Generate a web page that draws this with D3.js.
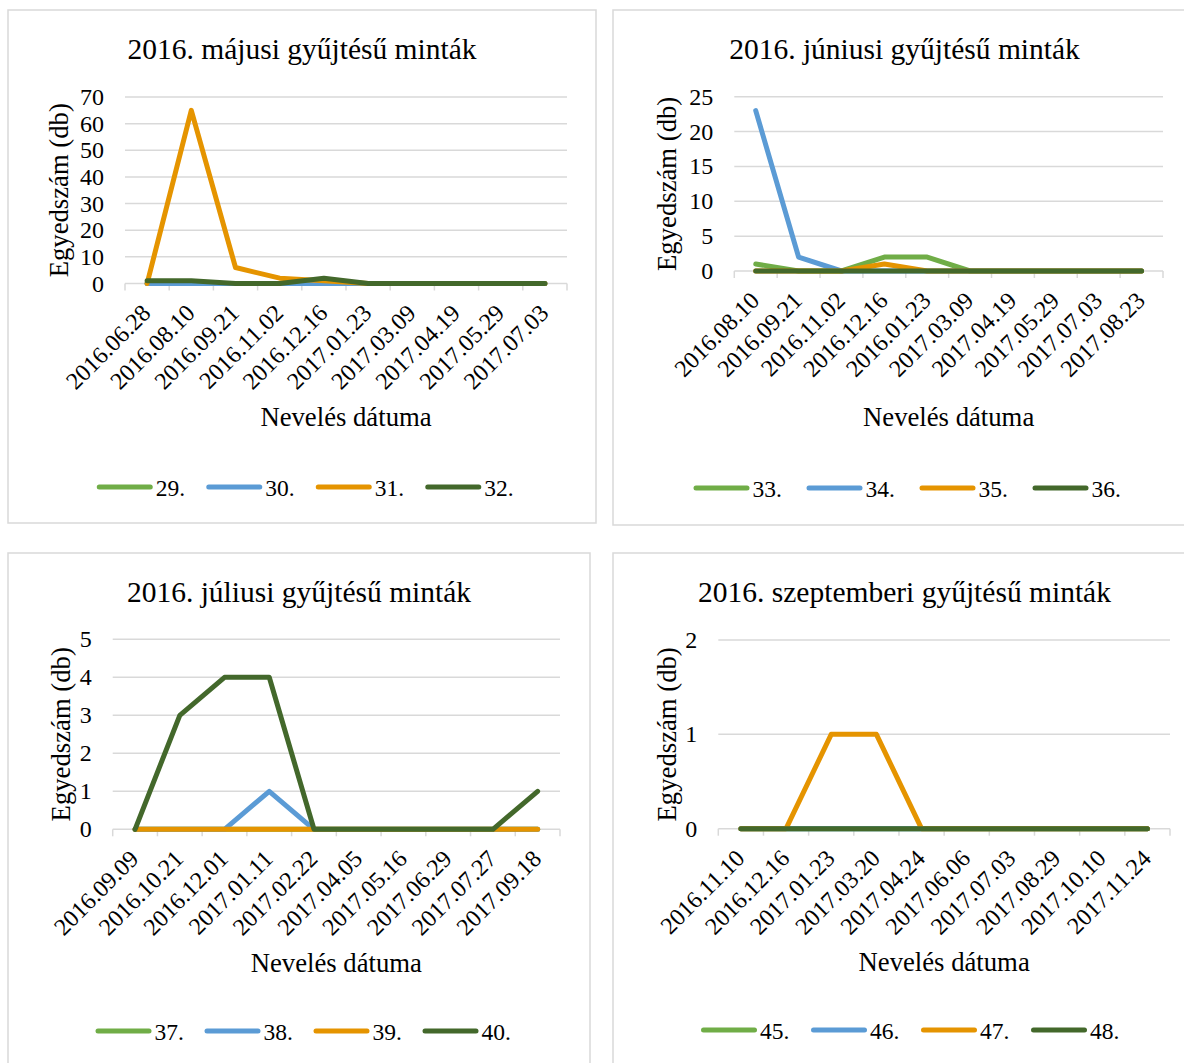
<!DOCTYPE html>
<html>
<head>
<meta charset="utf-8">
<script src="https://cdn.jsdelivr.net/npm/d3@7"></script>
<style>
  html, body { margin: 0; padding: 0; background: #fff; }
  svg { display: block; }
</style>
</head>
<body>
<svg id="chart" width="1184" height="1063"></svg>
<script>
// ---------- DATA ----------
const titles = [
  "2016. májusi gyűjtésű minták",
  "2016. júniusi gyűjtésű minták",
  "2016. júliusi gyűjtésű minták",
  "2016. szeptemberi gyűjtésű minták"
];
const yAxisTitle = "Egyedszám (db)";
const xAxisTitle = "Nevelés dátuma";

const catsMay  = ["2016.06.28","2016.08.10","2016.09.21","2016.11.02","2016.12.16","2017.01.23","2017.03.09","2017.04.19","2017.05.29","2017.07.03"];
const catsJune = ["2016.08.10","2016.09.21","2016.11.02","2016.12.16","2016.01.23","2017.03.09","2017.04.19","2017.05.29","2017.07.03","2017.08.23"];
const catsJuly = ["2016.09.09","2016.10.21","2016.12.01","2017.01.11","2017.02.22","2017.04.05","2017.05.16","2017.06.29","2017.07.27","2017.09.18"];
const catsSept = ["2016.11.10","2016.12.16","2017.01.23","2017.03.20","2017.04.24","2017.06.06","2017.07.03","2017.08.29","2017.10.10","2017.11.24"];

const namesMay  = ["29.","30.","31.","32."];
const namesJune = ["33.","34.","35.","36."];
const namesJuly = ["37.","38.","39.","40."];
const namesSept = ["45.","46.","47.","48."];

const s29 = [0,0,0,0,0,0,0,0,0,0];
const s30 = [0,0,0,0,0,0,0,0,0,0];
const s31 = [0,65,6,2,1,0,0,0,0,0];
const s32 = [1,1,0,0,2,0,0,0,0,0];

const s33 = [1,0,0,2,2,0,0,0,0,0];
const s34 = [23,2,0,0,0,0,0,0,0,0];
const s35 = [0,0,0,1,0,0,0,0,0,0];
const s36 = [0,0,0,0,0,0,0,0,0,0];

const s37 = [0,0,0,0,0,0,0,0,0,0];
const s38 = [0,0,0,1,0,0,0,0,0,0];
const s39 = [0,0,0,0,0,0,0,0,0,0];
const s40 = [0,3,4,4,0,0,0,0,0,1];

const s45 = [0,0,0,0,0,0,0,0,0,0];
const s46 = [0,0,0,0,0,0,0,0,0,0];
const s47 = [0,0,1,1,0,0,0,0,0,0];
const s48 = [0,0,0,0,0,0,0,0,0,0];

const yTicksMay  = [0,10,20,30,40,50,60,70];
const yTicksJune = [0,5,10,15,20,25];
const yTicksJuly = [0,1,2,3,4,5];
const yTicksSept = [0,1,2];

const seriesColors = ["#70ad47","#5b9bd5","#e59400","#43682b"];
const FONT = "'Liberation Serif', Tinos, 'Times New Roman', 'DejaVu Serif', serif";

// ---------- LAYOUT ----------
const panels = [
  { title: titles[0], cats: catsMay,  names: namesMay,  series: [s29,s30,s31,s32], ticks: yTicksMay,
    box: {x0: 8, y0: 10, x1: 596, y1: 523}, plot: {L: 125, R: 567, T: 97, B: 283.5},
    titleY: 59, yTitleX: 68, xTitleY: 426, legendY: 487, legendCx: 305, legendStep: 109.5 },
  { title: titles[1], cats: catsJune, names: namesJune, series: [s33,s34,s35,s36], ticks: yTicksJune,
    box: {x0: 613, y0: 10, x1: 1196, y1: 525}, plot: {L: 734.3, R: 1163, T: 96.7, B: 271},
    titleY: 59, yTitleX: 676, xTitleY: 426, legendY: 488, legendCx: 907, legendStep: 113 },
  { title: titles[2], cats: catsJuly, names: namesJuly, series: [s37,s38,s39,s40], ticks: yTicksJuly,
    box: {x0: 8, y0: 553, x1: 590, y1: 1070}, plot: {L: 112.7, R: 560, T: 639.3, B: 829.3},
    titleY: 602, yTitleX: 70, xTitleY: 972, legendY: 1031, legendCx: 303, legendStep: 109 },
  { title: titles[3], cats: catsSept, names: namesSept, series: [s45,s46,s47,s48], ticks: yTicksSept,
    box: {x0: 613, y0: 553, x1: 1196, y1: 1070}, plot: {L: 718.3, R: 1170, T: 640, B: 828.7},
    titleY: 602, yTitleX: 676, xTitleY: 971, legendY: 1030, legendCx: 910, legendStep: 110 }
];

const svg = d3.select("#chart").attr("font-family", FONT);
svg.append("rect").attr("width", 1184).attr("height", 1063).attr("fill", "#fff");

panels.forEach(p => {
  const g = svg.append("g").attr("font-family", FONT);
  const {L, R, T, B} = p.plot;
  const yMax = d3.max(p.ticks);

  g.append("rect")
    .attr("x", p.box.x0).attr("y", p.box.y0)
    .attr("width", p.box.x1 - p.box.x0).attr("height", p.box.y1 - p.box.y0)
    .attr("fill", "#fff").attr("stroke", "#d9d9d9").attr("stroke-width", 1.5);

  const x = d3.scaleBand().domain(p.cats).range([L, R]).paddingInner(0).paddingOuter(0);
  const y = d3.scaleLinear().domain([0, yMax]).range([B, T]);
  const bw = x.bandwidth();

  g.append("text")
    .attr("x", (p.box.x0 + p.box.x1) / 2).attr("y", p.titleY)
    .attr("text-anchor", "middle").attr("font-family", FONT).attr("font-size", 29.5)
    .text(p.title);

  g.selectAll(".grid").data(p.ticks).enter().append("line")
    .attr("x1", L).attr("x2", R)
    .attr("y1", d => y(d)).attr("y2", d => y(d))
    .attr("stroke", "#d9d9d9").attr("stroke-width", 1.5);

  const boundaries = d3.range(p.cats.length + 1);
  g.selectAll(".xt").data(boundaries).enter().append("line")
    .attr("x1", i => L + i * bw).attr("x2", i => L + i * bw)
    .attr("y1", B).attr("y2", B + 7)
    .attr("stroke", "#d9d9d9").attr("stroke-width", 1.5);

  g.selectAll(".yl").data(p.ticks).enter().append("text")
    .attr("x", L - 21).attr("y", d => y(d) + 8)
    .attr("text-anchor", "end").attr("font-family", FONT).attr("font-size", 24)
    .text(d => d);

  g.selectAll(".xl").data(p.cats).enter().append("text")
    .attr("text-anchor", "end").attr("font-family", FONT).attr("font-size", 24)
    .attr("transform", d => `translate(${x(d) + bw / 2 + 5},${B + 31}) rotate(-45)`)
    .text(d => d);

  g.append("text")
    .attr("text-anchor", "middle").attr("font-family", FONT).attr("font-size", 26.7)
    .attr("transform", `translate(${p.yTitleX},${(T + B) / 2}) rotate(-90)`)
    .text(yAxisTitle);
  g.append("text")
    .attr("x", (L + R) / 2).attr("y", p.xTitleY)
    .attr("text-anchor", "middle").attr("font-family", FONT).attr("font-size", 26.7)
    .text(xAxisTitle);

  const line = d3.line()
    .x((d, i) => x(p.cats[i]) + bw / 2)
    .y(d => y(d));
  p.series.forEach((s, k) => {
    g.append("path")
      .datum(s)
      .attr("d", line)
      .attr("fill", "none")
      .attr("stroke", seriesColors[k])
      .attr("stroke-width", 5)
      .attr("stroke-linejoin", "round")
      .attr("stroke-linecap", "round");
  });

  const swatch = 56, gapText = 3;
  const totalW = p.legendStep * (p.names.length - 1) + swatch + gapText + 29;
  const lx0 = p.legendCx - totalW / 2;
  p.names.forEach((n, k) => {
    const lx = lx0 + k * p.legendStep;
    g.append("line")
      .attr("x1", lx + 2.5).attr("x2", lx + swatch - 2.5)
      .attr("y1", p.legendY).attr("y2", p.legendY)
      .attr("stroke", seriesColors[k]).attr("stroke-width", 5)
      .attr("stroke-linecap", "round");
    g.append("text")
      .attr("x", lx + swatch + gapText).attr("y", p.legendY + 8.5)
      .attr("font-family", FONT).attr("font-size", 23.5)
      .text(n);
  });
});
</script>
</body>
</html>
